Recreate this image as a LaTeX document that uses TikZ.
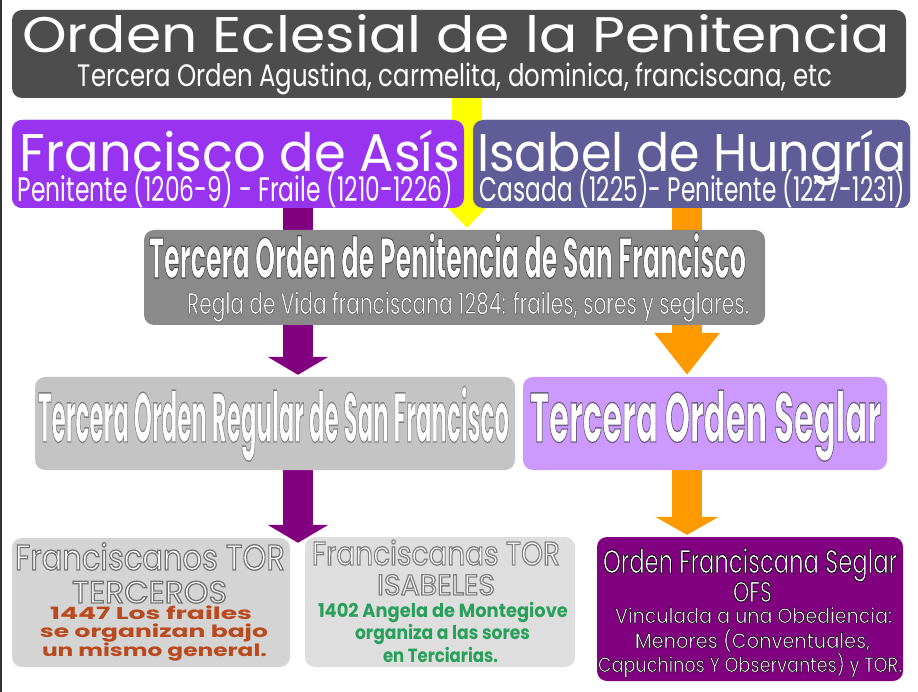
\documentclass[tikz,border=0pt]{standalone}
\usepackage{fontspec}
\setmainfont{Poppins}
\usepackage{graphicx}
\usetikzlibrary{arrows.meta}
\definecolor{box_dark}{RGB}{77,77,77}
\definecolor{box_violet}{RGB}{152,52,240}
\definecolor{box_slate}{RGB}{96,92,152}
\definecolor{box_gray}{RGB}{138,138,138}
\definecolor{box_silver}{RGB}{196,196,196}
\definecolor{box_lilac}{RGB}{204,153,255}
\definecolor{box_light}{RGB}{212,212,212}
\definecolor{box_pale}{RGB}{222,222,222}
\definecolor{box_purple}{RGB}{128,0,128}
\definecolor{edge_purple}{RGB}{128,0,128}
\definecolor{edge_orange}{RGB}{255,153,0}
\definecolor{edge_yellow}{RGB}{255,255,0}
\definecolor{text_brown}{RGB}{186,74,30}
\definecolor{text_green}{RGB}{40,160,90}
\newcommand\fitline[3]{\resizebox{#1pt}{\height}{\fontsize{#2pt}{#2pt}\selectfont #3}}
% white letters with a stroked rim: rim colour (r g b), rim width
\newcommand\rim[3]{\special{pdf:literal direct #1 RG #2 w 2 Tr}#3\special{pdf:literal direct 0 Tr}}

\begin{document}
\begin{tikzpicture}[x=1pt,y=-1pt]
    \tikzstyle{box}=[rounded corners=10pt, inner sep=0pt, draw=none]
    \tikzstyle{txt}=[anchor=base, inner sep=0pt, text=white]
    \tikzstyle{blockarrow}=[line width=30pt]

    \fill[white] (0,0) rectangle (918,692);
    \useasboundingbox (0,0) rectangle (918,692);
    \draw[line width=1.5pt, black!80] (0.8,0) -- (0.8,692);

    \coordinate (colL) at (298,0);
    \coordinate (colY) at (467,0);
    \coordinate (colR) at (687,0);

    % boxes
    \node[box, fill=box_dark, minimum width=894pt, minimum height=88pt] (top) at (459,54) {};
    \node[box, fill=box_violet, minimum width=452pt, minimum height=88pt] (fran) at (238,164) {};
    \node[box, fill=box_slate, minimum width=437pt, minimum height=88pt] (isa) at (691.5,164) {};
    \node[box, minimum width=621pt, minimum height=95pt] (pen) at (454.5,277.5) {};
    \node[box, minimum width=480pt, minimum height=93pt] (tor) at (275,423.5) {};
    \node[box, minimum width=364pt, minimum height=93pt] (seg) at (705,423.5) {};
    \node[box, minimum width=278pt, minimum height=129pt] (terc) at (151,602.5) {};
    \node[box, minimum width=270pt, minimum height=130pt] (isab) at (440,602) {};
    \node[box, minimum width=306pt, minimum height=144pt] (ofs) at (750,609) {};

    % arrows
    \draw[blockarrow, edge_yellow, -{Triangle[width=56pt,length=30pt]}]
      (top.south -| colY) -- ([yshift=2pt]pen.north -| colY);
    \draw[blockarrow, edge_purple, -{Triangle[width=60pt,length=18pt]}]
      (fran.south -| colL) -- ([yshift=2pt]tor.north -| colL);
    \draw[blockarrow, edge_orange, -{Triangle[width=63pt,length=42pt]}]
      (isa.south -| colR) -- ([yshift=2pt]seg.north -| colR);
    \draw[blockarrow, edge_purple, -{Triangle[width=60pt,length=18pt]}]
      (tor.south -| colL) -- ([yshift=-5pt]terc.north -| colL);
    \draw[blockarrow, edge_orange, -{Triangle[width=63pt,length=18pt]}]
      (seg.south -| colR) -- ([yshift=2pt]ofs.north -| colR);

    % boxes drawn over the arrows
    \node[box, fill=box_violet, minimum width=452pt, minimum height=88pt] at (fran) {};
    \node[box, fill=box_slate, minimum width=437pt, minimum height=88pt] at (isa) {};
    \node[box, fill=box_gray, minimum width=621pt, minimum height=95pt] at (pen) {};
    \node[box, fill=box_silver, minimum width=480pt, minimum height=93pt] at (tor) {};
    \node[box, fill=box_lilac, minimum width=364pt, minimum height=93pt] at (seg) {};
    \node[box, fill=box_light, minimum width=278pt, minimum height=129pt] at (terc) {};
    \node[box, fill=box_pale, minimum width=270pt, minimum height=130pt] at (isab) {};
    \node[box, fill=box_purple, minimum width=306pt, minimum height=144pt] at (ofs) {};

    % texts
    \node[txt] (top_t) at (456,53) {\fitline{868}{50}{Orden Eclesial de la Penitencia}};
    \node[txt] (top_s) at (455,87) {\fitline{754}{31}{Tercera Orden Agustina, carmelita, dominica, franciscana, etc}};
    \node[txt] (fran_t) at (240,172) {\fitline{440}{53}{Francisco de Asís}};
    \node[txt] (fran_s) at (235.5,202) {\fitline{435}{34}{Penitente (1206-9) - Fraile (1210-1226)}};
    \node[txt] (isa_t) at (692,172) {\fitline{430}{53}{Isabel de Hungría}};
    \node[txt] (isa_s) at (692.5,202) {\fitline{425}{34}{Casada (1225)- Penitente (1227-1231)}};
    \node[txt] (pen_t) at (447.5,278) {\fitline{597}{57}{\bfseries\rim{0.3 0.3 0.3}{1.2}{Tercera Orden de Penitencia de San Francisco}}};
    \node[txt] (pen_s) at (468,314) {\fitline{562}{30}{\rim{0.35 0.35 0.35}{0.6}{Regla de Vida franciscana 1284: frailes, sores y seglares.}}};
    \node[txt] (tor_t) at (273.5,442) {\fitline{471}{70}{\bfseries\rim{0.5 0.5 0.5}{1.4}{Tercera Orden Regular de San Francisco}}};
    \node[txt] (seg_t) at (705.5,442) {\fitline{351}{70}{\bfseries\rim{0.45 0.37 0.52}{1.4}{Tercera Orden Seglar}}};

    \node[txt] (terc_t) at (150,570) {\fitline{270}{36}{\rim{0.45 0.45 0.45}{1.3}{Franciscanos TOR}}};
    \node[txt] (terc_n) at (149.5,603) {\fitline{155}{31}{\rim{0.45 0.45 0.45}{1.3}{TERCEROS}}};
    \node[txt, text=text_brown] (terc_a) at (151,619) {\fitline{202}{17}{\bfseries 1447 Los frailes}};
    \node[txt, text=text_brown] (terc_b) at (154,637) {\fitline{228}{17}{\bfseries se organizan bajo}};
    \node[txt, text=text_brown] (terc_c) at (154.5,656) {\fitline{225}{17}{\bfseries un mismo general.}};

    \node[txt] (isab_t) at (436,565) {\fitline{248}{33}{\rim{0.5 0.5 0.5}{1.3}{Franciscanas TOR}}};
    \node[txt] (isab_n) at (436,595) {\fitline{118}{29}{\rim{0.5 0.5 0.5}{1.3}{ISABELES}}};
    \node[txt, text=text_green] (isab_a) at (443,617) {\fitline{250}{19}{\bfseries 1402 Angela de Montegiove}};
    \node[txt, text=text_green] (isab_b) at (442.5,639) {\fitline{175}{19}{\bfseries organiza a las sores}};
    \node[txt, text=text_green] (isab_c) at (440.5,662) {\fitline{115}{19}{\bfseries en Terciarias.}};

    \node[txt] (ofs_t) at (750,573) {\fitline{294}{33}{\rim{0 0 0}{0.8}{Orden Franciscana Seglar}}};
    \node[txt] (ofs_n) at (752.5,602) {\fitline{39}{29}{\rim{0 0 0}{0.8}{OFS}}};
    \node[txt] (ofs_a) at (753.5,623) {\fitline{277}{21}{\rim{0 0 0}{0.5}{Vinculada a una Obediencia:}}};
    \node[txt] (ofs_b) at (752.5,648) {\fitline{235}{21}{\rim{0 0 0}{0.5}{Menores (Conventuales,}}};
    \node[txt] (ofs_c) at (750,672) {\fitline{304}{21}{\rim{0 0 0}{0.5}{Capuchinos Y Observantes) y TOR.}}};
\end{tikzpicture}
\end{document}
